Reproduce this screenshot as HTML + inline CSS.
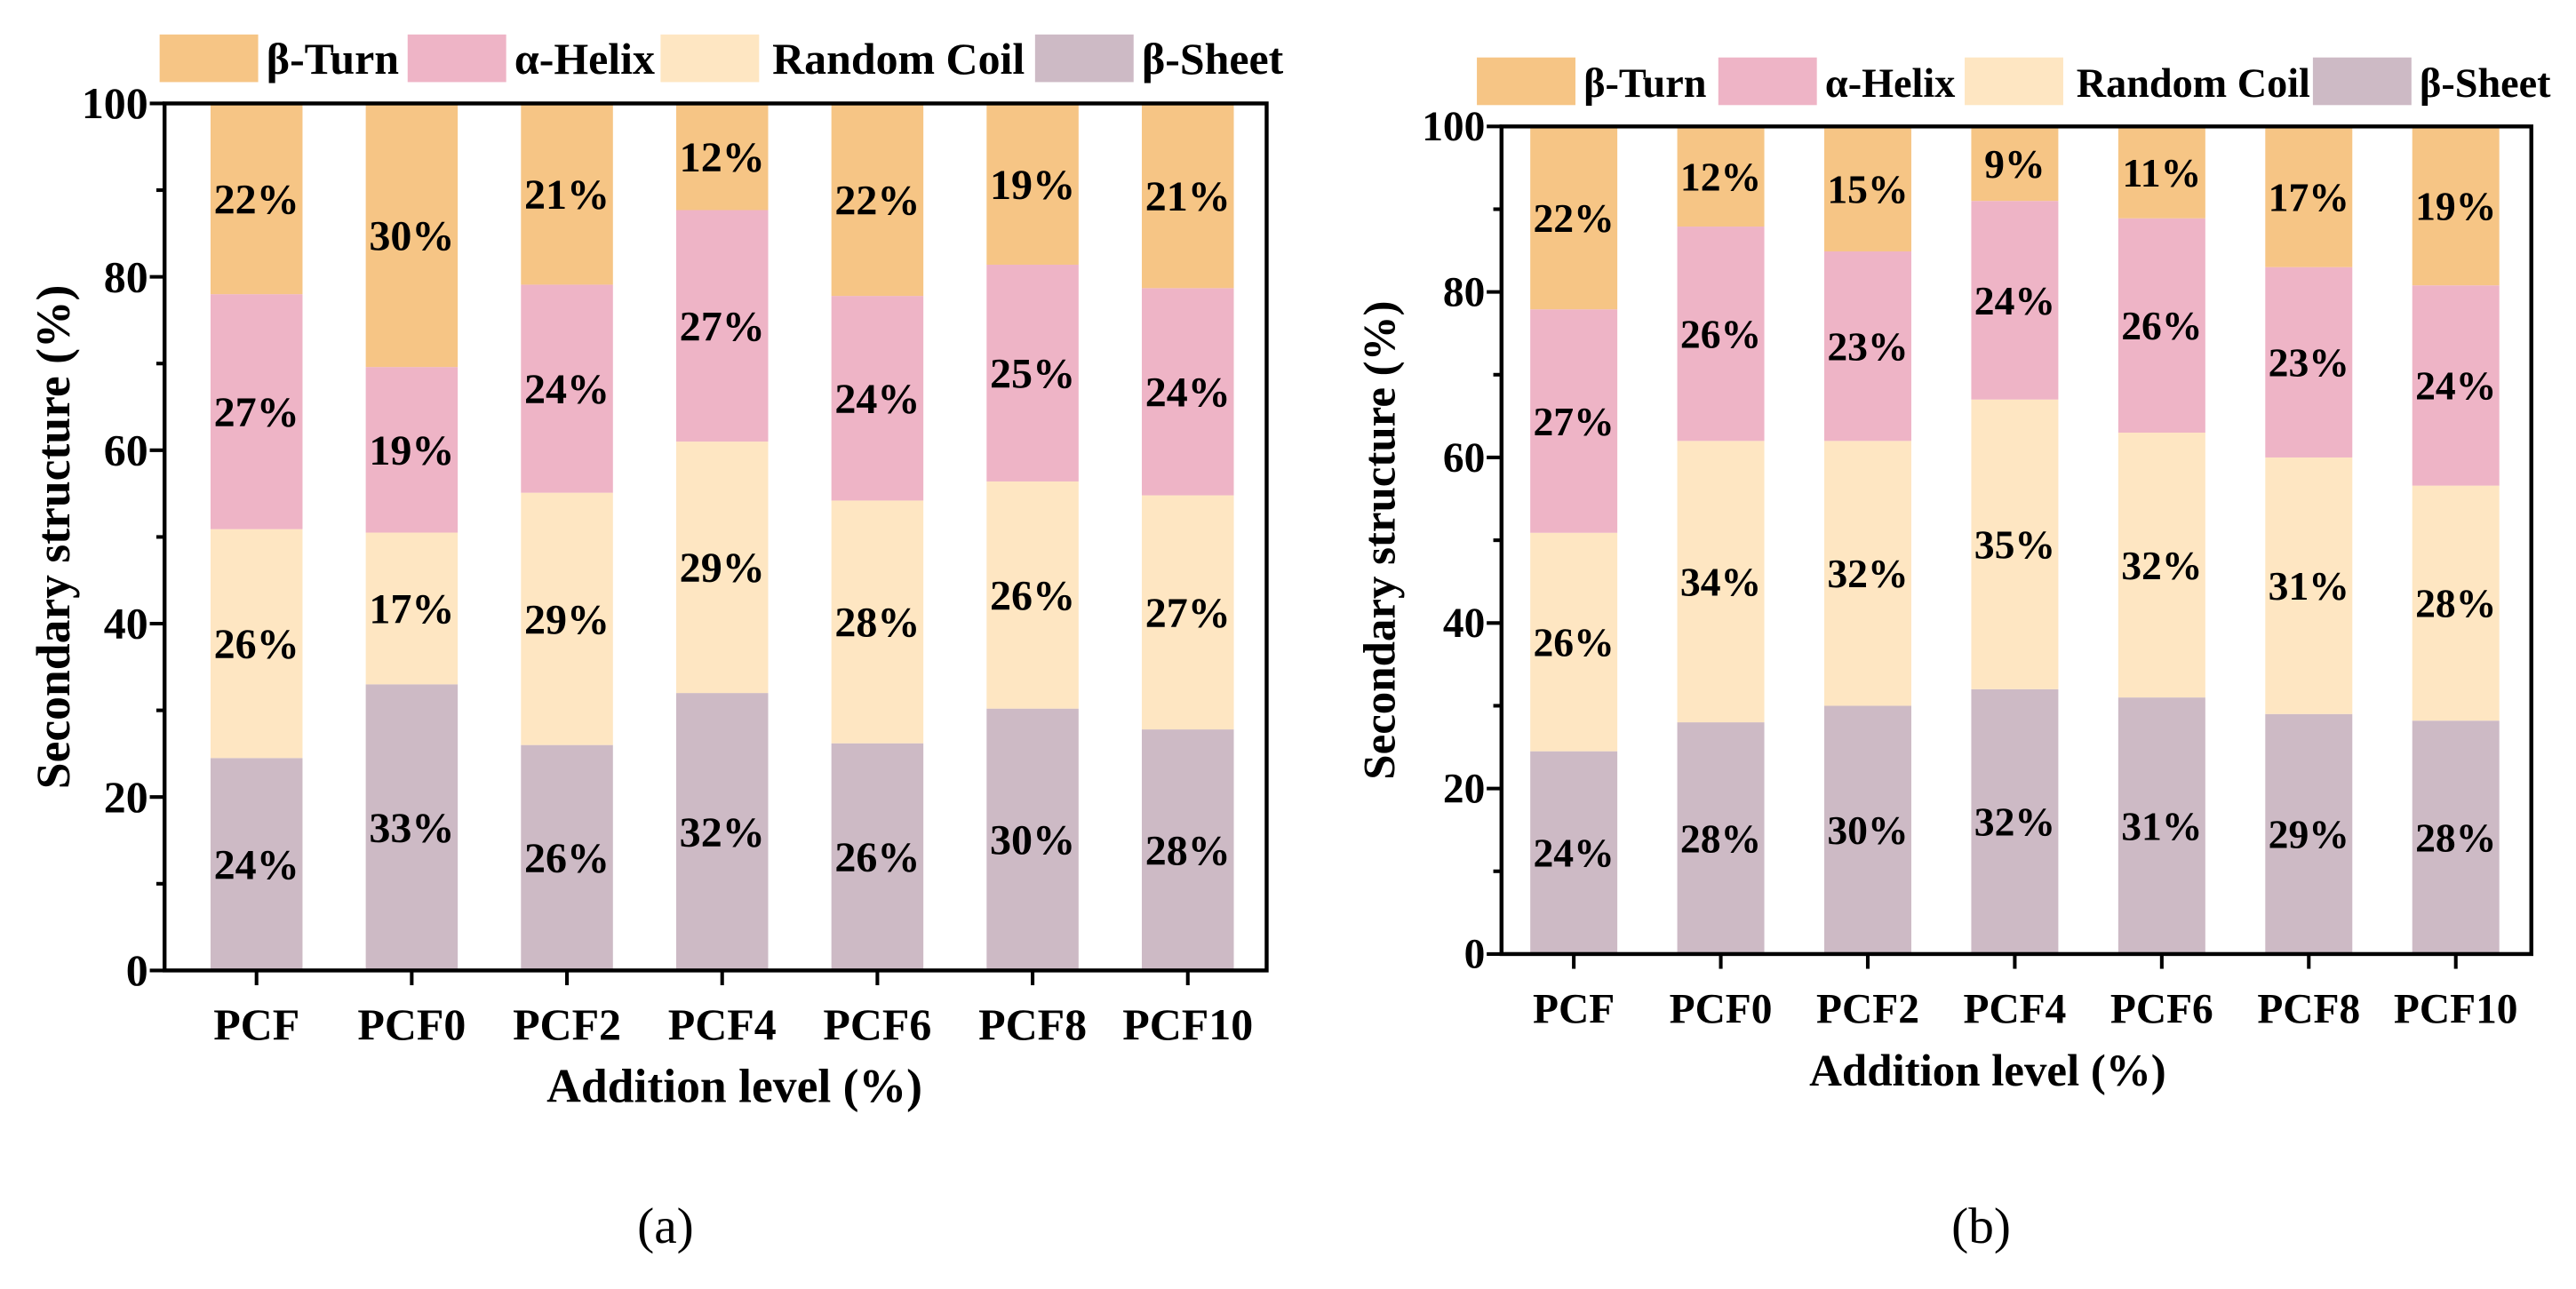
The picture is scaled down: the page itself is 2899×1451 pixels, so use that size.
<!DOCTYPE html>
<html><head><meta charset="utf-8"><style>
html,body{margin:0;padding:0;background:#fff;}
svg{display:block;}
text{font-family:"Liberation Serif",serif;font-weight:bold;fill:#000;}
</style></head><body>
<svg id="fig" width="2899" height="1451" viewBox="0 0 1568 785" xmlns="http://www.w3.org/2000/svg">
<text x="405" y="757" font-size="31" text-anchor="middle" style="font-weight:normal">(a)</text>
<text x="1206" y="757" font-size="31" text-anchor="middle" style="font-weight:normal">(b)</text>
</svg>
<script>
const categories = ["PCF","PCF0","PCF2","PCF4","PCF6","PCF8","PCF10"];
const seriesNames = ["β-Sheet","Random Coil","α-Helix","β-Turn"];
const yTicks = [0,20,40,60,80,100];
// chart (a)
const aSheet = [24.5,33,26,32,26.2,30.2,27.8];
const aCoil  = [26.4,17.5,29.1,29,28,26.2,27];
const aHelix = [27.1,19.1,24,26.7,23.6,25,23.9];
const aTurn  = [22,30.4,20.9,12.3,22.2,18.6,21.3];
const aSheetLbl = ["24%","33%","26%","32%","26%","30%","28%"];
const aCoilLbl  = ["26%","17%","29%","29%","28%","26%","27%"];
const aHelixLbl = ["27%","19%","24%","27%","24%","25%","24%"];
const aTurnLbl  = ["22%","30%","21%","12%","22%","19%","21%"];
// chart (b)
const bSheet = [24.5,28,30,32,31,29,28.2];
const bCoil  = [26.4,34,32,35,32,31,28.4];
const bHelix = [27,25.9,22.9,24,25.9,23,24.2];
const bTurn  = [22.1,12.1,15.1,9,11.1,17,19.2];
const bSheetLbl = ["24%","28%","30%","32%","31%","29%","28%"];
const bCoilLbl  = ["26%","34%","32%","35%","32%","31%","28%"];
const bHelixLbl = ["27%","26%","23%","24%","26%","23%","24%"];
const bTurnLbl  = ["22%","12%","15%","9%","11%","17%","19%"];

const colors = ["#CDBAC5","#FEE6C2","#EEB4C6","#F6C585"];
const NS="http://www.w3.org/2000/svg";
const svg=document.getElementById('fig');
function mk(tag,attrs,parent){const e=document.createElementNS(NS,tag);for(const k in attrs)e.setAttribute(k,attrs[k]);(parent||svg).appendChild(e);return e;}

function drawChart(c){
  const f=c.fs;
  const g=mk('g',{});
  
  
  const y=v=>c.bottom-(v/100)*(c.bottom-c.top);
  const n=categories.length;
  const x=i=>c.x0+(c.x1-c.x0)*i/(n-1);
  const series=[c.sheet,c.coil,c.helix,c.turn];
  const labels=[c.sheetL,c.coilL,c.helixL,c.turnL];
  categories.forEach((cat,i)=>{
    let base=0;
    series.forEach((s,k)=>{
      const v=s[i];
      const r=mk('rect',{x:x(i)-c.bw/2,y:y(base+v),width:c.bw,height:y(base)-y(base+v),fill:colors[k]},g);
      
      
      const t=mk('text',{x:x(i),y:(y(base)+y(base+v))/2+9*f,'font-size':26*f,'text-anchor':'middle'},g);
      t.textContent=labels[k][i];
      
      
      base+=v;
    });
    const tk=mk('line',{x1:x(i),x2:x(i),y1:c.bottom,y2:c.bottom+9,stroke:'#000','stroke-width':2.2},g);
    
    
    const tl=mk('text',{x:x(i),y:c.bottom+42,'font-size':27*f,'text-anchor':'middle'},g);
    tl.textContent=cat;
    
    
  });
  const frame=mk('rect',{x:c.left,y:c.top,width:c.right-c.left,height:c.bottom-c.top,fill:'none',stroke:'#000','stroke-width':2.4},g);
  
  
  for(let v=0;v<=100;v+=10){
    const major=yTicks.includes(v);
    const l=mk('line',{x1:c.left-(major?9:5),x2:c.left,y1:y(v),y2:y(v),stroke:'#000','stroke-width':2.2},g);
    
    
  }
  yTicks.forEach(v=>{
    const t=mk('text',{x:c.left-10,y:y(v)+9*f,'font-size':27*f,'text-anchor':'end'},g);
    t.textContent=v;
    
    
  });
  const yt=mk('text',{x:0,y:0,'font-size':29*f,'text-anchor':'middle',transform:`translate(${c.ytx},${(c.top+c.bottom)/2}) rotate(-90)`},g);
  yt.textContent='Secondary structure (%)';
  
  
  const xt=mk('text',{x:c.xtx,y:c.bottom+80,'font-size':29*f,'text-anchor':'middle'},g);
  xt.textContent='Addition level (%)';
  
  
  const legOrder=[3,2,1,0];
  legOrder.forEach((k,j)=>{
    const sx=c.legX[j];
    const r=mk('rect',{x:sx,y:c.legY,width:60,height:29,fill:colors[k]},g);
    
    
    const t=mk('text',{x:sx+(k===1?68:65),y:c.legY+24,'font-size':c.lfs},g);
    t.textContent=seriesNames[k];
    
    
  });
}
drawChart({id:'a',fs:1,lfs:27,left:100,right:771,top:63,bottom:591,bw:56,x0:156,x1:723,ytx:42,xtx:447,
  sheet:aSheet,coil:aCoil,helix:aHelix,turn:aTurn,
  sheetL:aSheetLbl,coilL:aCoilLbl,helixL:aHelixLbl,turnL:aTurnLbl,
  legX:[97,248,402,630],legY:21});
drawChart({id:'b',fs:0.95,lfs:25,left:914,right:1541,top:77,bottom:581,bw:53,x0:958,x1:1495,ytx:849,xtx:1210,
  sheet:bSheet,coil:bCoil,helix:bHelix,turn:bTurn,
  sheetL:bSheetLbl,coilL:bCoilLbl,helixL:bHelixLbl,turnL:bTurnLbl,
  legX:[899,1046,1196,1408],legY:35});
</script>
</body></html>
